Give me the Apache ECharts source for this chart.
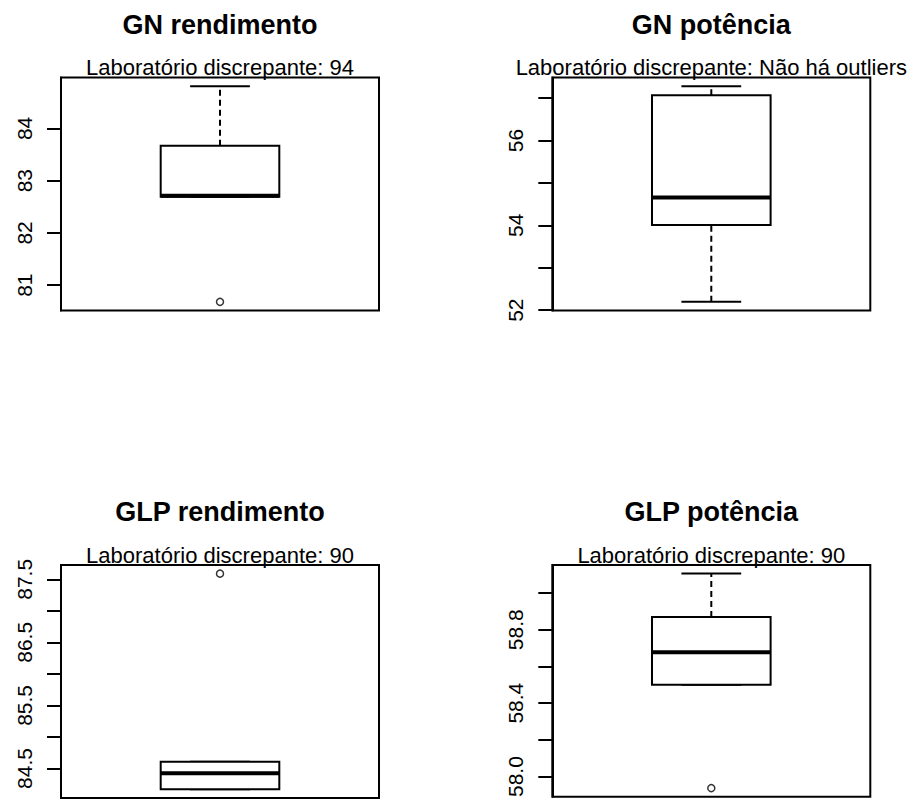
<!DOCTYPE html>
<html>
<head>
<meta charset="utf-8">
<script src="https://cdn.jsdelivr.net/npm/echarts@6/dist/echarts.min.js"></script>
<style>
  html, body { margin: 0; padding: 0; background: #fff; }
  #chart { width: 915px; height: 800px; }
</style>
</head>
<body>
<div id="chart"></div>
<script>
// Panel texts
const titles = ['GN rendimento', 'GN potência', 'GLP rendimento', 'GLP potência'];
const subtitles = [
  'Laboratório discrepante: 94',
  'Laboratório discrepante: Não há outliers',
  'Laboratório discrepante: 90',
  'Laboratório discrepante: 90'
];

// Five-number summaries per panel
const whiskerLow    = [82.69, 52.195, 84.168, 58.50];
const lowerQuartile = [82.69, 54.01,  84.168, 58.50];
const medians       = [82.71, 54.66,  84.424, 58.678];
const upperQuartile = [83.67, 57.07,  84.606, 58.869];
const whiskerHigh   = [84.81, 57.285, 84.606, 59.106];
const outliers      = [[80.68], [], [87.59], [57.937]];

// Axis ticks and labelled ticks
const tickValues = [
  [81, 82, 83, 84],
  [52, 53, 54, 55, 56, 57],
  [84.5, 85, 85.5, 86, 86.5, 87, 87.5],
  [58.0, 58.2, 58.4, 58.6, 58.8, 59.0]
];
const labelValues = [
  [81, 82, 83, 84],
  [52, 54, 56],
  [84.5, 85.5, 86.5, 87.5],
  [58.0, 58.4, 58.8]
];
const labelDecimals = [0, 0, 1, 1];

// Layout of the 2x2 panel grid
const panelLeft = [61, 552.3, 61, 552.3];
const panelTop = [77.5, 77.5, 565, 565];
const PANEL_W = 318;
const PANEL_H = 233;
const BOX_HALF = 0.1865;   // half box width in x units (x range 0.5..1.5)
const STAPLE_HALF = 0.094; // half staple width
const INK = '#000';
const FONT = '"Liberation Sans", Arial, sans-serif';

const chart = echarts.init(document.getElementById('chart'), null, { renderer: 'svg' });

function renderBox(params, api) {
  const x = api.value(0);
  const lo = api.value(1), q1 = api.value(2), med = api.value(3), q3 = api.value(4), hi = api.value(5);
  const pt = (dx, v) => api.coord([x + dx, v]);
  const children = [];
  const seg = (a, b, style) => ({
    type: 'line',
    shape: { x1: a[0], y1: a[1], x2: b[0], y2: b[1] },
    style: Object.assign({ stroke: INK, lineWidth: 2 }, style || {})
  });
  // dashed whiskers
  if (hi > q3) children.push(seg(pt(0, q3), pt(0, hi), { lineDash: [6, 4] }));
  if (lo < q1) children.push(seg(pt(0, lo), pt(0, q1), { lineDash: [6, 4] }));
  // staples
  children.push(seg(pt(-STAPLE_HALF, hi), pt(STAPLE_HALF, hi)));
  children.push(seg(pt(-STAPLE_HALF, lo), pt(STAPLE_HALF, lo)));
  // box
  const tl = pt(-BOX_HALF, q3);
  const br = pt(BOX_HALF, q1);
  children.push({
    type: 'rect',
    shape: { x: tl[0], y: tl[1], width: br[0] - tl[0], height: br[1] - tl[1] },
    style: { fill: '#fff', stroke: INK, lineWidth: 2 }
  });
  // median
  children.push(seg(pt(-BOX_HALF, med), pt(BOX_HALF, med), { lineWidth: 4 }));
  return { type: 'group', children };
}

const grid = [], xAxis = [], yAxis = [], series = [], title = [];

titles.forEach((name, i) => {
  const all = [whiskerLow[i], whiskerHigh[i]].concat(outliers[i]);
  const lo = Math.min.apply(null, all);
  const hi = Math.max.apply(null, all);
  const pad = 0.04 * (hi - lo);
  const cx = panelLeft[i] + PANEL_W / 2;

  grid.push({
    left: panelLeft[i], top: panelTop[i], width: PANEL_W, height: PANEL_H,
    show: true, borderColor: INK, borderWidth: 2, backgroundColor: 'transparent'
  });
  xAxis.push({ gridIndex: i, type: 'value', min: 0.5, max: 1.5, show: false });
  yAxis.push({
    gridIndex: i, type: 'value', min: lo - pad, max: hi + pad,
    splitLine: { show: false },
    axisLine: { show: true, lineStyle: { color: INK, width: 2 } },
    axisTick: { show: true, length: 14, lineStyle: { color: INK, width: 2 }, customValues: tickValues[i] },
    axisLabel: {
      show: true, rotate: 90, margin: 26, color: INK, fontSize: 21, fontFamily: FONT,
      customValues: labelValues[i],
      formatter: v => Number(v).toFixed(labelDecimals[i])
    }
  });

  series.push({
    type: 'custom', xAxisIndex: i, yAxisIndex: i,
    renderItem: renderBox,
    encode: { x: 0, y: [1, 2, 3, 4, 5] },
    data: [[1, whiskerLow[i], lowerQuartile[i], medians[i], upperQuartile[i], whiskerHigh[i]]],
    silent: true, animation: false
  });
  if (outliers[i].length) {
    series.push({
      type: 'scatter', xAxisIndex: i, yAxisIndex: i,
      symbol: 'circle', symbolSize: 7,
      itemStyle: { color: '#fff', borderColor: INK, borderWidth: 1.5 },
      data: outliers[i].map(v => [1, v]),
      silent: true, animation: false
    });
  }

  title.push({
    text: name, left: cx, top: panelTop[i] - 53, padding: 0,
    textAlign: 'center', textVerticalAlign: 'middle',
    textStyle: { fontSize: 27, fontWeight: 'bold', fontFamily: FONT, color: INK }
  });
  title.push({
    text: subtitles[i], left: cx, top: panelTop[i] - 10, padding: 0,
    textAlign: 'center', textVerticalAlign: 'middle',
    textStyle: { fontSize: 22, fontWeight: 'normal', fontFamily: FONT, color: INK }
  });
});

chart.setOption({
  animation: false,
  backgroundColor: '#fff',
  title, grid, xAxis, yAxis, series
});
</script>
</body>
</html>
